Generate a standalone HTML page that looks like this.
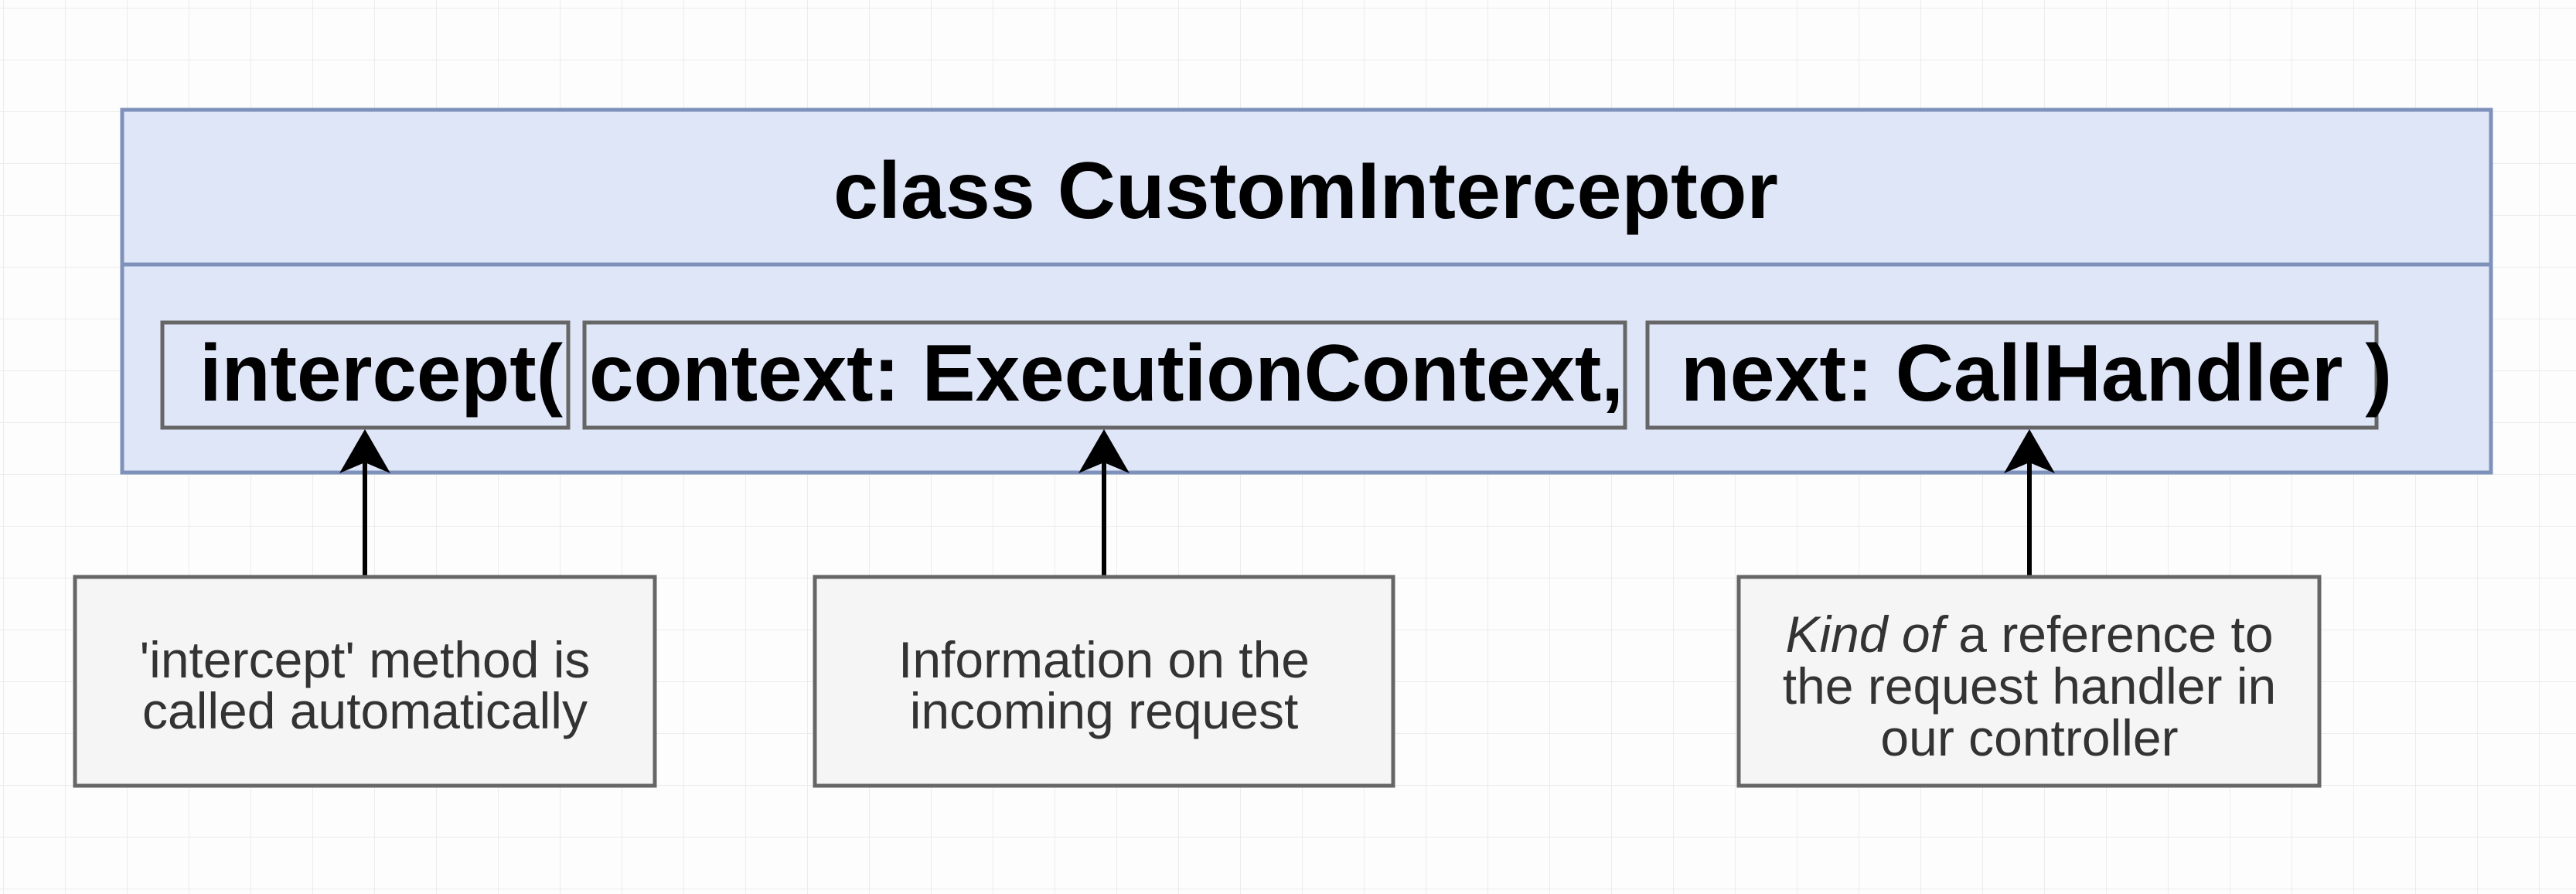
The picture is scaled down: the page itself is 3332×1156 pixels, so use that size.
<!DOCTYPE html>
<html><head><style>
html,body{margin:0;padding:0;background:#fff;}
svg{display:block;}
</style></head><body>
<svg width="3332" height="1156" viewBox="0 0 3332 1156" xmlns="http://www.w3.org/2000/svg">
<defs>
<pattern id="g" x="4" y="10" width="80" height="67" patternUnits="userSpaceOnUse">
<path d="M0 0 V67 M0 0 H80" stroke="#ececec" stroke-width="2" fill="none"/>
</pattern>
</defs>
<rect width="3332" height="1156" fill="#fdfdfd"/>
<rect width="3332" height="1156" fill="url(#g)"/>

<rect x="158" y="142" width="3064" height="469" fill="#dfe6f8" stroke="#7d91bb" stroke-width="5"/>
<line x1="158" y1="342" x2="3222" y2="342" stroke="#7d91bb" stroke-width="5"/>
<text x="1078" y="282" textLength="1222" lengthAdjust="spacingAndGlyphs" font-family="Liberation Sans, sans-serif" font-weight="bold" font-size="104" fill="#000">class CustomInterceptor</text>

<rect x="210" y="417" width="525" height="136" fill="none" stroke="#666" stroke-width="5"/>
<rect x="756" y="417" width="1346" height="136" fill="none" stroke="#666" stroke-width="5"/>
<rect x="2131" y="417" width="943" height="136" fill="none" stroke="#666" stroke-width="5"/>
<g font-family="Liberation Sans, sans-serif" font-weight="bold" font-size="104" fill="#000">
<text x="258" y="518" textLength="470" lengthAdjust="spacingAndGlyphs">intercept(</text>
<text x="762" y="518" textLength="1338" lengthAdjust="spacingAndGlyphs">context: ExecutionContext,</text>
<text x="2174" y="518" textLength="920" lengthAdjust="spacingAndGlyphs">next: CallHandler )</text>
</g>

<g stroke="#000" stroke-width="6">
<line x1="472" y1="746" x2="472" y2="590"/>
<line x1="1428" y1="746" x2="1428" y2="590"/>
<line x1="2625" y1="746" x2="2625" y2="590"/>
</g>
<g fill="#000">
<path d="M472 555 L505 612 L472 598 L439 612 Z"/>
<path d="M1428 555 L1461 612 L1428 598 L1395 612 Z"/>
<path d="M2625 555 L2658 612 L2625 598 L2592 612 Z"/>
</g>

<g fill="#f5f5f5" stroke="#666" stroke-width="5">
<rect x="97" y="746" width="750" height="270"/>
<rect x="1054" y="746" width="748" height="270"/>
<rect x="2249" y="746" width="751" height="270"/>
</g>
<g font-family="Liberation Sans, sans-serif" font-size="66" fill="#333" text-anchor="middle">
<text x="472" y="876">'intercept' method is</text>
<text x="472" y="942">called automatically</text>
<text x="1428" y="876">Information on the</text>
<text x="1428" y="942">incoming request</text>
<text x="2625" y="843"><tspan font-style="italic">Kind of</tspan> a reference to</text>
<text x="2625" y="910">the request handler in</text>
<text x="2625" y="977">our controller</text>
</g>
</svg>
</body></html>
